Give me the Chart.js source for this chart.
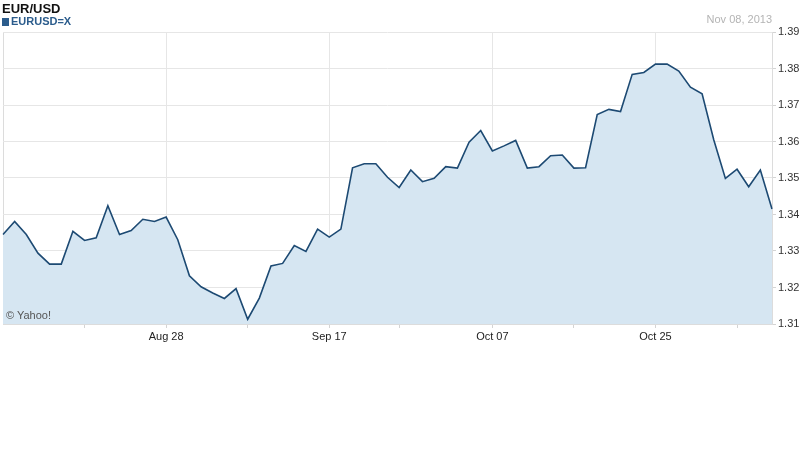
<!DOCTYPE html>
<html>
<head>
<meta charset="utf-8">
<script src="https://cdn.jsdelivr.net/npm/chart.js@4.4.0/dist/chart.umd.min.js"></script>
<style>
  body { margin: 0; background: #fff; font-family: Arial, "Liberation Sans", sans-serif; }
  #wrap { position: relative; width: 800px; height: 475px; }
  #title { position: absolute; left: 2px; top: 1px; font-size: 13px; font-weight: bold; color: #111; }
  #symbol { position: absolute; left: 2px; top: 15px; font-size: 11px; font-weight: bold; color: #2b5c8c; }
  #symbol span { display: inline-block; width: 7px; height: 8px; background: #2b5c8c; margin-right: 2px; vertical-align: -1px; }
  #date { position: absolute; right: 28px; top: 13px; font-size: 11px; color: #b4b4b4; }
  #credit { position: absolute; left: 6px; top: 309px; font-size: 11px; color: #555; }
</style>
</head>
<body>
<div id="wrap">
  <canvas id="chart"></canvas>
  <div id="title">EUR/USD</div>
  <div id="symbol"><span></span>EURUSD=X</div>
  <div id="date">Nov 08, 2013</div>
  <div id="credit">© Yahoo!</div>
</div>
<script>
// trading days, Aug 08 - Nov 08 2013
const dates = [
  'Aug 08','Aug 09','Aug 12','Aug 13','Aug 14','Aug 15','Aug 16','Aug 19','Aug 20','Aug 21',
  'Aug 22','Aug 23','Aug 26','Aug 27','Aug 28','Aug 29','Aug 30','Sep 02','Sep 03','Sep 04',
  'Sep 05','Sep 06','Sep 09','Sep 10','Sep 11','Sep 12','Sep 13','Sep 16','Sep 17','Sep 18',
  'Sep 19','Sep 20','Sep 23','Sep 24','Sep 25','Sep 26','Sep 27','Sep 30','Oct 01','Oct 02',
  'Oct 03','Oct 04','Oct 07','Oct 08','Oct 09','Oct 10','Oct 11','Oct 14','Oct 15','Oct 16',
  'Oct 17','Oct 18','Oct 21','Oct 22','Oct 23','Oct 24','Oct 25','Oct 28','Oct 29','Oct 30',
  'Oct 31','Nov 01','Nov 04','Nov 05','Nov 06','Nov 07','Nov 08'
];

const closes = [
  1.3345, 1.3381, 1.3345, 1.3294, 1.3264, 1.3264, 1.3354, 1.3329, 1.3336, 1.3424,
  1.3345, 1.3356, 1.3387, 1.3381, 1.3393, 1.3331, 1.3232, 1.3202, 1.3185, 1.3170,
  1.3197, 1.3113, 1.3171, 1.3259, 1.3266, 1.3315, 1.3299, 1.3360, 1.3338, 1.3360,
  1.3528, 1.3539, 1.3539, 1.3502, 1.3474, 1.3522, 1.3490, 1.3499, 1.3531, 1.3527,
  1.3598, 1.3630, 1.3574, 1.3588, 1.3603, 1.3527, 1.3531, 1.3561, 1.3563, 1.3527,
  1.3528, 1.3674, 1.3688, 1.3682, 1.3784, 1.3789, 1.3812, 1.3812, 1.3793, 1.3749,
  1.3731, 1.3605, 1.3499, 1.3524, 1.3476, 1.3522, 1.3415
];

const labelDates = ['Aug 28', 'Sep 17', 'Oct 07', 'Oct 25'];
const minorDates = ['Aug 19', 'Sep 06', 'Sep 25', 'Oct 16', 'Nov 05'];

const Y_MIN = 1.31, Y_MAX = 1.39, Y_STEP = 0.01;

const LINE = '#1d4a73';
const FILL = '#d6e6f2';
const GRID = '#e6e6e6';

const ctx = document.getElementById('chart').getContext('2d');

new Chart(ctx, {
  type: 'line',
  data: {
    labels: dates,
    datasets: [{
      data: closes,
      borderColor: LINE,
      borderWidth: 1.6,
      backgroundColor: FILL,
      fill: 'start',
      pointRadius: 0,
      tension: 0
    }]
  },
  options: {
    responsive: true,
    maintainAspectRatio: false,
    animation: false,
    layout: { padding: { top: 32, left: 3, right: 0, bottom: 0 } },
    plugins: { legend: { display: false }, tooltip: { enabled: false } },
    scales: {
      x: {
        offset: false,
        border: { display: true, color: '#dcdcdc' },
        grid: {
          color: (c) => {
            const d = dates[c.index];
            if (c.index === 0) return '#dcdcdc';
            return labelDates.includes(d) ? GRID : 'rgba(0,0,0,0)';
          },
          tickColor: (c) => {
            const d = dates[c.index];
            return (minorDates.includes(d) || labelDates.includes(d)) ? '#d4d4d4' : 'rgba(0,0,0,0)';
          },
          tickLength: 4
        },
        ticks: {
          autoSkip: false,
          maxRotation: 0,
          padding: 2,
          color: '#222',
          font: { family: 'Arial, "Liberation Sans", sans-serif', size: 11 },
          callback: function (v, i) {
            return labelDates.includes(dates[i]) ? dates[i] : '';
          }
        },
        afterFit: (s) => { s.height = 151; }
      },
      y: {
        position: 'right',
        min: Y_MIN,
        max: Y_MAX,
        border: { display: true, color: '#dcdcdc' },
        grid: { color: GRID, tickColor: '#d4d4d4', tickLength: 4 },
        ticks: {
          stepSize: Y_STEP,
          padding: 2,
          color: '#333',
          font: { family: 'Arial, "Liberation Sans", sans-serif', size: 11 },
          callback: (v) => v.toFixed(2)
        },
        afterFit: (s) => { s.width = 28; }
      }
    }
  }
});
</script>
</body>
</html>
